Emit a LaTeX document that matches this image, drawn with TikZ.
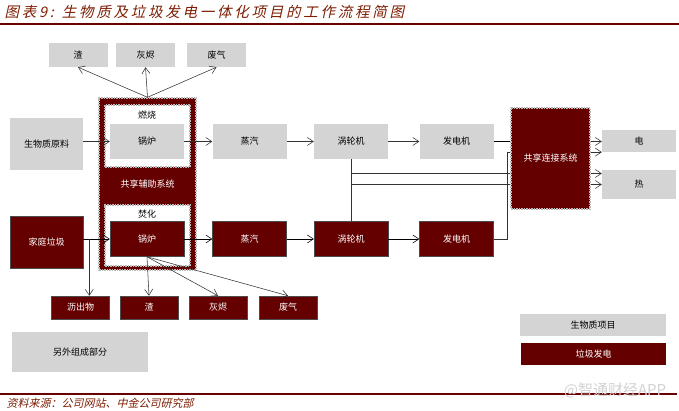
\documentclass[tikz,border=0pt]{standalone}
\usepackage{fontspec}
\setmainfont{Noto Sans CJK SC}
\newfontfamily\cjkslant[FakeSlant=0.22]{Noto Sans CJK SC}
\newfontfamily\cjkwide[FakeSlant=0.22,LetterSpace=19]{Noto Sans CJK SC}
\usetikzlibrary{arrows.meta,positioning,calc}
\definecolor{maroon}{HTML}{640000}
\definecolor{boxgray}{HTML}{D4D4D4}
\definecolor{titlered}{HTML}{7E1E04}
\definecolor{rulered}{HTML}{6A0000}
\tikzset{
  gbox/.style={fill=boxgray,inner sep=0pt},
  rbox/.style={fill=maroon,draw=black!70,line width=.5pt,text=white,inner sep=0pt},
  dashframe/.style={draw=gray!55,dashed,dash pattern=on 1.5pt off 1pt,line width=1.4pt},
  conn/.style={draw=black!80,line width=.55pt}
}
\begin{document}
\begin{tikzpicture}[x=1pt,y=-1pt,>={Straight Barb[length=6pt,width=8pt]},font=\fontsize{9}{11}\selectfont]
\useasboundingbox (0,0) rectangle (679,411);
% title and rules
\node[anchor=west,text=titlered,font=\cjkwide\fontsize{14.5}{16}\selectfont] (title) at (1,12) {图表9: 生物质及垃圾发电一体化项目的工作流程简图};
\draw[rulered,line width=2pt] (0,24.5)--(679,24.5);
\draw[rulered,line width=2pt] (0,394)--(677,394);
\node[anchor=west,text=titlered,font=\cjkslant\fontsize{11}{13}\selectfont] (source) at (3,403) {资料来源：公司网站、中金公司研究部};
\node[text=gray!35,font=\fontsize{15}{17}\selectfont] (mark) at (615,390) {@智通财经APP};
% shared auxiliary frame
\node[fill=maroon,dashframe,minimum width=97pt,minimum height=172pt,text=white] (aux) at (147.5,184) {共享辅助系统};
\node[fill=white,dashframe,minimum width=85pt,minimum height=62pt] (burn) at (147.5,136) {};
\node[fill=white,dashframe,minimum width=85pt,minimum height=61pt] (incin) at (147.5,235.5) {};
\node (burnlbl) at (147,115.5) {燃烧};
\node (incinlbl) at (147,214.5) {焚化};
% biomass line
\node[gbox,minimum width=73pt,minimum height=52pt] (feed1) at (46.5,144) {生物质原料};
\foreach \x/\name/\txt in {147/boiler1/锅炉,249.5/steam1/蒸汽,351/turb1/涡轮机,456.5/gen1/发电机}{
\node[gbox,minimum width=74pt,minimum height=35pt] (\name) at (\x,141.5) {\txt};}
\foreach \x/\name/\txt in {78/slag1/渣,145.5/ash1/灰烬,216.5/gas1/废气}{
\node[gbox,minimum width=59pt,minimum height=24pt] (\name) at (\x,55) {\txt};}
% waste line
\node[rbox,minimum width=73pt,minimum height=52pt] (feed2) at (46.5,242) {家庭垃圾};
\foreach \x/\name/\txt in {147/boiler2/锅炉,249.5/steam2/蒸汽,351/turb2/涡轮机,456.5/gen2/发电机}{
\node[rbox,minimum width=74pt,minimum height=35pt] (\name) at (\x,239) {\txt};}
\foreach \x/\name/\txt in {80.5/leach/沥出物,149/slag2/渣,218/ash2/灰烬,288/gas2/废气}{
\node[rbox,minimum width=58pt,minimum height=23pt] (\name) at (\x,307.5) {\txt};}
% shared link system and products
\node[fill=maroon,dashframe,minimum width=79pt,minimum height=101pt,text=white] (link) at (550.5,158.5) {共享连接系统};
\node[gbox,minimum width=74pt,minimum height=22pt] (elec) at (639,141) {电};
\node[gbox,minimum width=74pt,minimum height=29pt] (heat) at (639,184.5) {热};
% other parts and legend
\node[gbox,minimum width=136pt,minimum height=40pt] (other) at (80,352) {另外组成部分};
\node[gbox,minimum width=146pt,minimum height=22pt] (legbio) at (593,325) {生物质项目};
\node[rbox,draw=none,minimum width=145pt,minimum height=22pt] (legwaste) at (593.5,354) {垃圾发电};
% connectors, biomass
\foreach \t in {slag1,ash1,gas1}{\draw[conn,->] (aux.north)--(\t.south);}
\draw[conn,->] (feed1.east |- boiler1.west)--(boiler1.west);
\draw[conn,->] (boiler1.east)--(steam1.west);
\draw[conn,->] (steam1.east)--(turb1.west);
\draw[conn,->] (turb1.east)--(gen1.west);
\draw[conn,draw=black] (gen1.east)--(gen1.east -| link.west);
\draw[conn,->] (gen1.east -| link.east)--(gen1.east -| elec.west);
\draw[conn] (turb1.south) |- (link.west |- heat.west);
\draw[conn,->] (link.east |- heat.west)--(heat.west);
% connectors, waste
\coordinate (split) at ([xshift=6pt]feed2.east |- boiler2.west);
\draw[conn,draw=black,->] (feed2.east |- boiler2.west)--(boiler2.west);
\draw[conn,->] (split)--(split |- leach.north);
\foreach \t in {slag2,ash2,gas2}{\draw[conn,->] (boiler2.south)--(\t.north);}
\draw[conn,draw=black,->] (boiler2.east)--(steam2.west);
\draw[conn,draw=black,->] (steam2.east)--(turb2.west);
\draw[conn,draw=black,->] (turb2.east)--(gen2.west);
\coordinate (h2) at ([yshift=11pt]heat.west);
\draw[conn] (turb2.north) |- (h2 -| link.west);
\draw[conn,->] (h2 -| link.east)--(h2);
\coordinate (e2) at ([xshift=-3pt]link.west |- elec.south);
\draw[conn] (gen2.east) -| (e2)--(e2 -| link.west);
\draw[conn,->] (e2 -| link.east)--(elec.south west);
\end{tikzpicture}
\end{document}
